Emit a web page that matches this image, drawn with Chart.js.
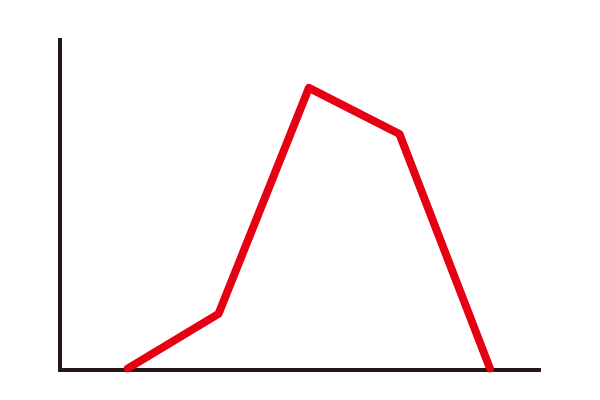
<!DOCTYPE html>
<html lang="ja">
<head>
<meta charset="UTF-8">
<title>Line</title>
<style>
  body { margin: 0; background: #fff; }
  canvas { display: block; }
</style>
</head>
<body>
<canvas id="grafico" width="600" height="400"></canvas>
<script src="https://cdn.jsdelivr.net/npm/chart.js"></script>
<script>
// positions along the x axis and the values
const xValues = [1, 2, 3, 4, 5];
const yValues = [0.5, 17, 85.5, 71.5, 0.5];

const lineColor = '#e60012';
const axisColor = '#231815';

const pontos = xValues.map((x, i) => ({ x: x, y: yValues[i] }));

new Chart(document.getElementById('grafico'), {
  type: 'scatter',
  data: {
    datasets: [{
      data: pontos,
      showLine: true,
      borderColor: lineColor,
      borderWidth: 8,
      borderCapStyle: 'round',
      borderJoinStyle: 'round',
      pointRadius: 0,
      pointHoverRadius: 0,
      tension: 0,
      clip: false
    }]
  },
  options: {
    responsive: false,
    animation: false,
    layout: { padding: { left: 60, right: 60, top: 40, bottom: 30 } },
    plugins: { legend: { display: false }, tooltip: { enabled: false } },
    scales: {
      x: {
        type: 'linear',
        min: 0.249,
        max: 5.553,
        ticks: { display: false },
        grid: { display: false, drawTicks: false },
        border: { display: true, color: axisColor, width: 4 }
      },
      y: {
        min: 0,
        max: 100,
        ticks: { display: false },
        grid: { display: false, drawTicks: false },
        border: { display: true, color: axisColor, width: 4 }
      }
    }
  }
});
</script>
</body>
</html>
